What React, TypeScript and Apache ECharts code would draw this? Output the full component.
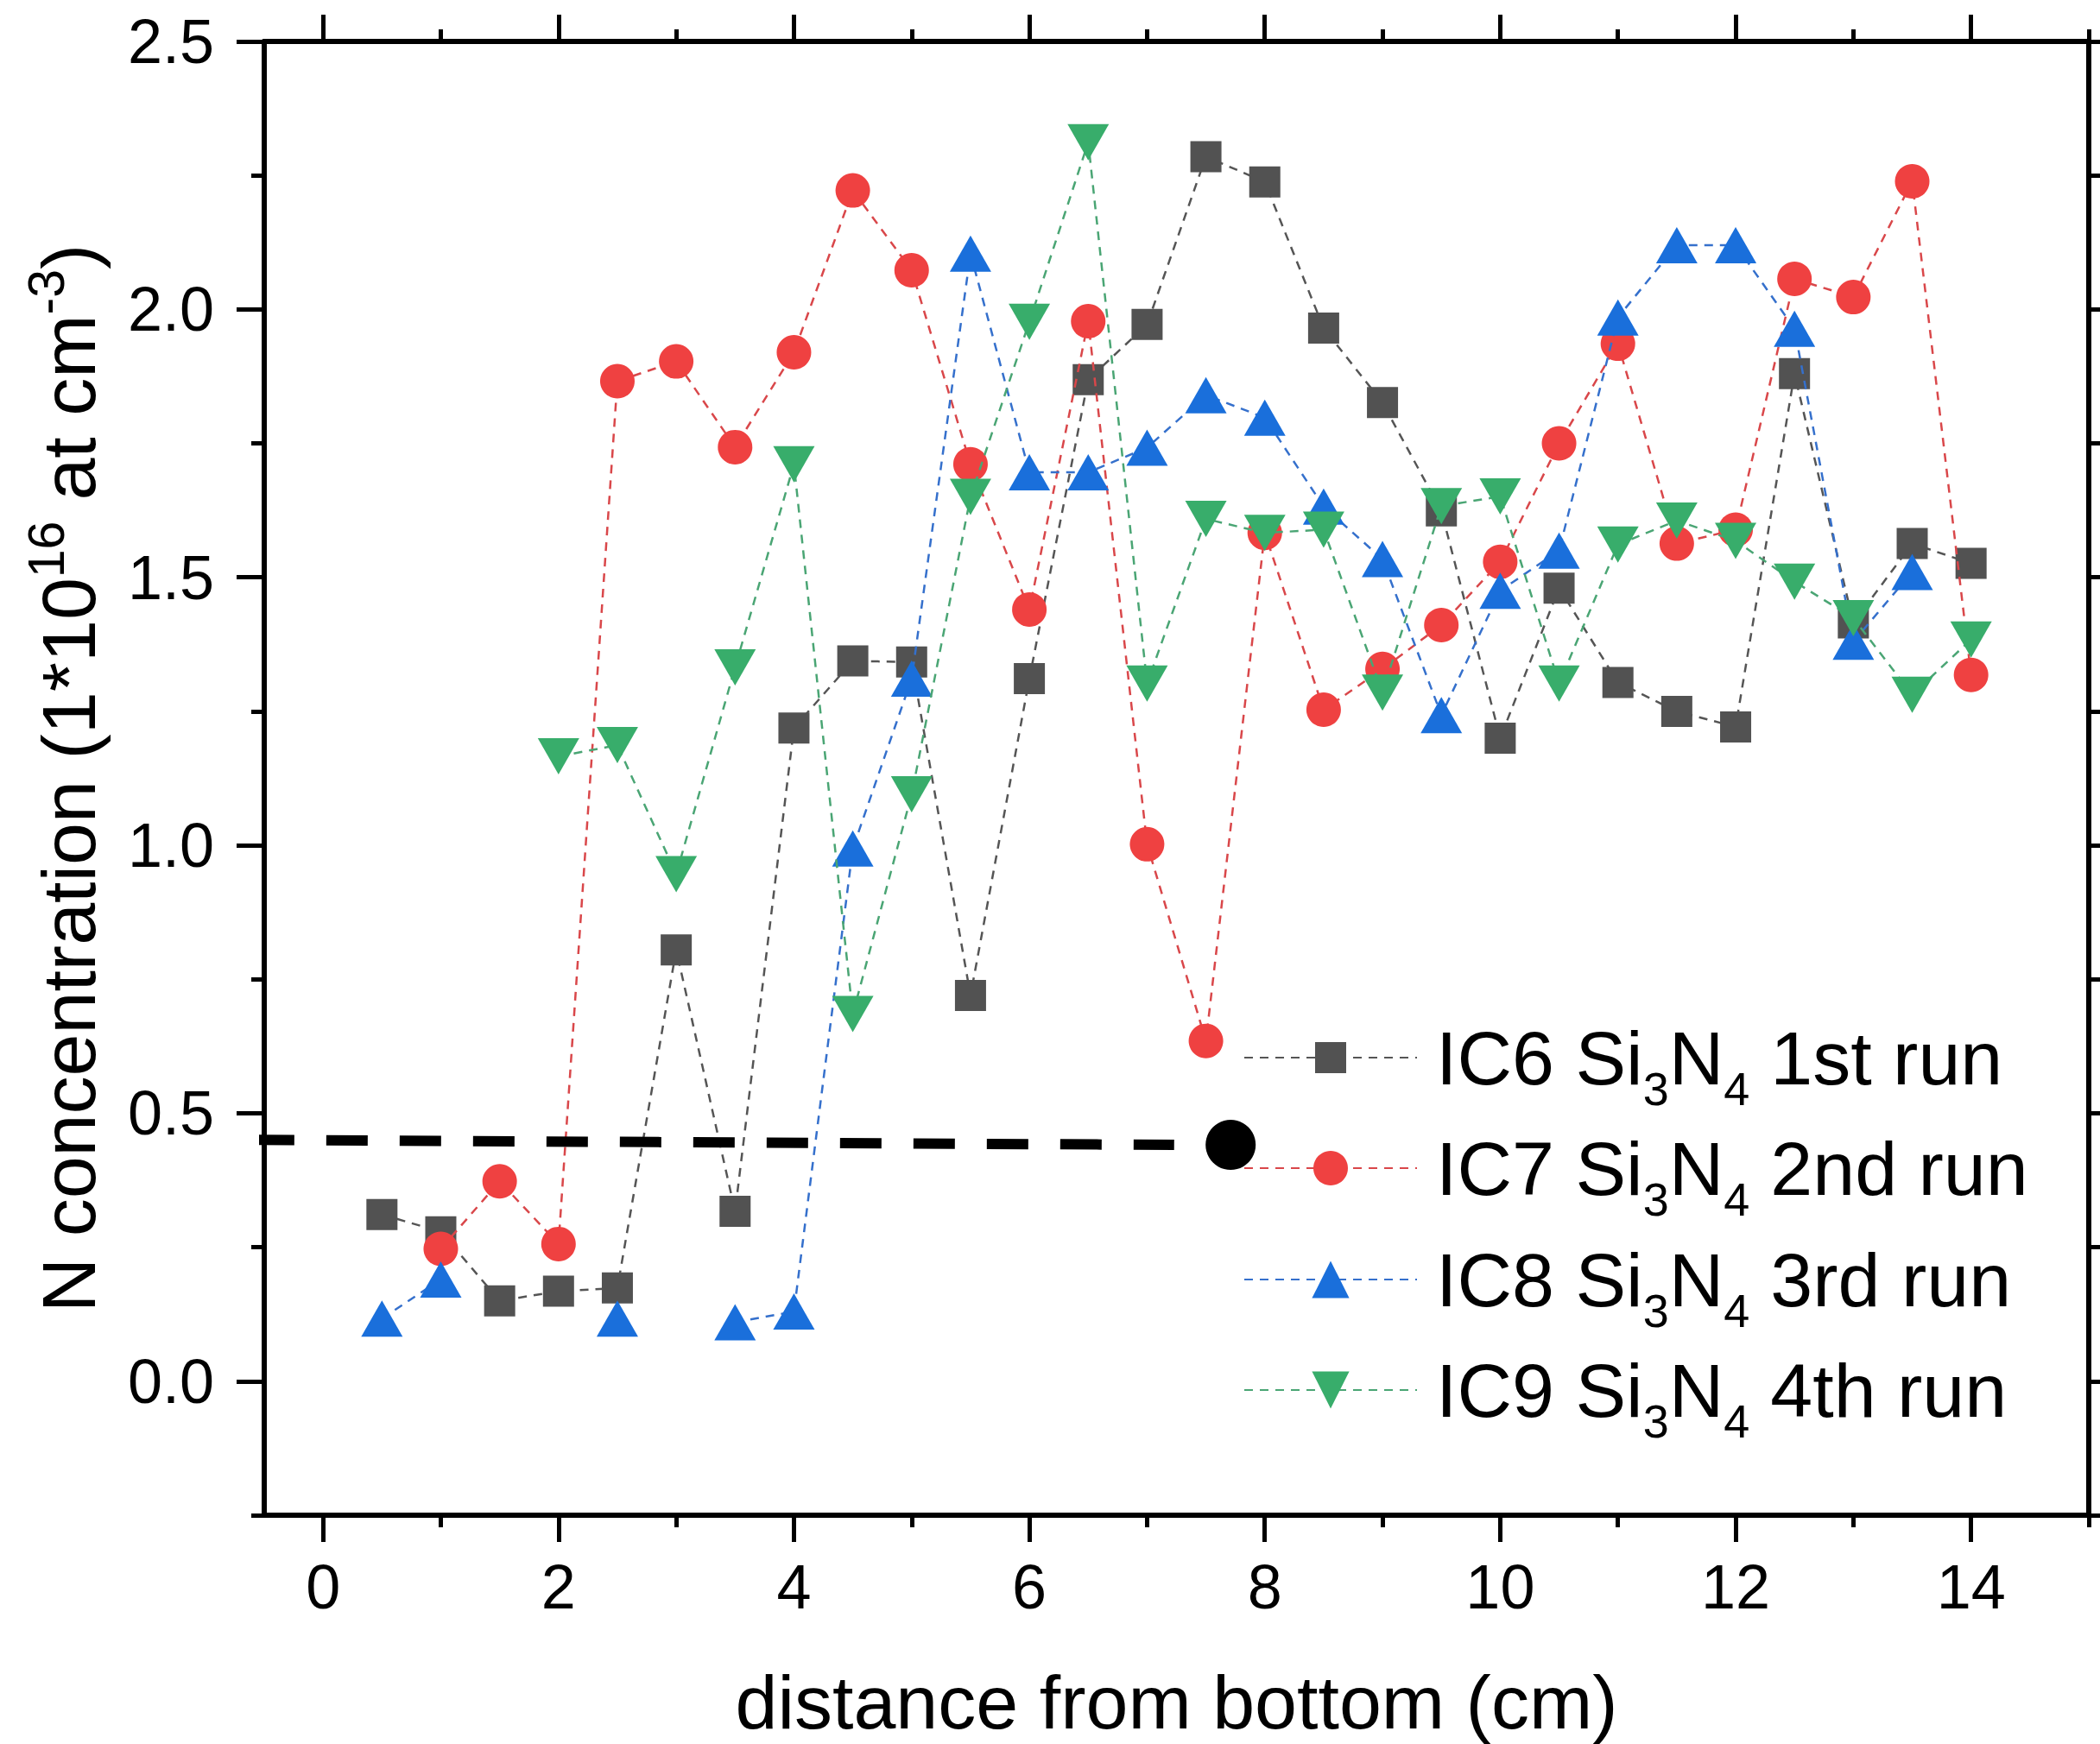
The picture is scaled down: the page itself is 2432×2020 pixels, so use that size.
import React, { useEffect, useRef } from "react";
import * as echarts from "echarts";

// ---------- data ----------
const xs = [0.5, 1, 1.5, 2, 2.5, 3, 3.5, 4, 4.5, 5, 5.5, 6, 6.5, 7, 7.5, 8, 8.5, 9, 9.5, 10, 10.5, 11, 11.5, 12, 12.5, 13, 13.5, 14];

const ic6 = [0.311, 0.279, 0.150, 0.168, 0.174, 0.805, 0.317, 1.219, 1.344, 1.342, 0.720, 1.311, 1.869, 1.972, 2.285, 2.238, 1.965, 1.826, 1.624, 1.200, 1.480, 1.304, 1.250, 1.221, 1.880, 1.415, 1.563, 1.526];
const ic7 = [null, 0.247, 0.373, 0.256, 1.866, 1.903, 1.743, 1.920, 2.222, 2.073, 1.711, 1.440, 1.978, 1.002, 0.635, 1.583, 1.253, 1.329, 1.411, 1.529, 1.750, 1.936, 1.563, 1.589, 2.057, 2.023, 2.239, 1.318];
const ic8 = [0.117, 0.190, null, null, 0.117, null, 0.110, 0.130, 0.994, 1.311, 2.104, 1.696, 1.696, 1.742, 1.840, 1.798, 1.632, 1.534, 1.243, 1.475, 1.550, 1.985, 2.120, 2.120, 1.964, 1.380, 1.510, null];
const ic9 = [null, null, null, 1.166, 1.187, 0.946, 1.332, 1.711, 0.685, 1.095, 1.650, 1.977, 2.312, 1.302, 1.609, 1.583, 1.589, 1.285, 1.633, 1.651, 1.302, 1.561, 1.606, 1.568, 1.492, 1.424, 1.281, 1.384];

const seriesIds = ["IC6", "IC7", "IC8", "IC9"];
const runLabels = ["1st run", "2nd run", "3rd run", "4th run"];

const xMajorTicks = [0, 2, 4, 6, 8, 10, 12, 14];
const xMinorTicks = [1, 3, 5, 7, 9, 11, 13, 15];
const yMajorTicks = [0, 0.5, 1, 1.5, 2, 2.5];
const yMinorTicks = [-0.25, 0.25, 0.75, 1.25, 1.75, 2.25];

const thresholdX = [-1.22, 7.23];
const thresholdY = [0.451, 0.441];
const markerPoint = [7.71, 0.441];

// ---------- styles ----------
const FONT = "'Liberation Sans', Arial, sans-serif";
const colors = ["#525252", "#EF4141", "#1A6FDB", "#38AD6B"];
const lineColors = ["#555555", "#D9474A", "#3570CC", "#4AA574"];
const symbols = ["rect", "circle", "triangle", "triangle"];
const symbolSizes: any[] = [36, 40, [48, 42], [48, 42]];
const symbolRotates = [0, 0, 0, 180];
const legendItemHeights = [45, 50, 54, 54];
const legendRowY = [1225, 1353, 1482, 1610];

const seriesNames = seriesIds.map((id, i) => `${id} Si3N4 ${runLabels[i]}`);
const seriesValues = [ic6, ic7, ic8, ic9];

const legendRich = {
  f: { fontSize: 88, lineHeight: 100, fontFamily: FONT, color: "#000", padding: [0, 0, 0, 17] },
  a: { fontSize: 88, lineHeight: 100, fontFamily: FONT, color: "#000" },
  r: { fontSize: 88, lineHeight: 100, fontFamily: FONT, color: "#000", padding: [0, 0, 0, 24] },
  s: { fontSize: 54, lineHeight: 28, verticalAlign: "top", padding: [59, 0, 0, 0], fontFamily: FONT, color: "#000" },
};

export default function App() {
  const ref = useRef<HTMLDivElement>(null);

  useEffect(() => {
    if (!ref.current) return;
    const chart = echarts.init(ref.current, undefined, { renderer: "svg" });

    const axisLineStyle = { show: true, onZero: false, lineStyle: { color: "#000", width: 6 } };
    const noLine = { show: false, onZero: false };

    const xBase = { type: "value", min: -0.5, max: 15, splitLine: { show: false } };
    const yBase = { type: "value", min: -0.25, max: 2.5, splitLine: { show: false } };

    const xAxis = [
      {
        ...xBase,
        position: "bottom",
        axisLine: axisLineStyle,
        axisTick: { show: true, customValues: xMajorTicks, length: 31, lineStyle: { color: "#000", width: 5 } },
        axisLabel: {
          show: true,
          customValues: xMajorTicks,
          margin: 47,
          fontSize: 72,
          fontFamily: FONT,
          color: "#000",
          formatter: (v: number) => String(v),
        },
        name: "distance from bottom (cm)",
        nameLocation: "middle",
        nameGap: 172,
        nameTextStyle: { fontSize: 88, fontFamily: FONT, color: "#000" },
      },
      {
        ...xBase,
        position: "bottom",
        axisLine: noLine,
        axisTick: { show: true, customValues: xMinorTicks, length: 14, lineStyle: { color: "#000", width: 5 } },
        axisLabel: { show: false },
      },
      {
        ...xBase,
        position: "top",
        axisLine: axisLineStyle,
        axisTick: { show: true, customValues: xMajorTicks, length: 31, lineStyle: { color: "#000", width: 5 } },
        axisLabel: { show: false },
      },
      {
        ...xBase,
        position: "top",
        axisLine: noLine,
        axisTick: { show: true, customValues: xMinorTicks, length: 14, lineStyle: { color: "#000", width: 5 } },
        axisLabel: { show: false },
      },
    ];

    const yAxis = [
      {
        ...yBase,
        position: "left",
        axisLine: axisLineStyle,
        axisTick: { show: true, customValues: yMajorTicks, length: 32, lineStyle: { color: "#000", width: 5 } },
        axisLabel: {
          show: true,
          customValues: yMajorTicks,
          margin: 58,
          fontSize: 72,
          fontFamily: FONT,
          color: "#000",
          formatter: (v: number) => v.toFixed(1),
        },
        name: "{a|N concentration (1*10}{p|16}{b|at cm}{p|-3}{a|)}",
        nameLocation: "middle",
        nameRotate: 90,
        nameGap: 172,
        nameTextStyle: {
          fontSize: 88,
          fontFamily: FONT,
          color: "#000",
          rich: {
            a: { fontSize: 88, lineHeight: 110, fontFamily: FONT, color: "#000" },
            b: { fontSize: 88, lineHeight: 110, fontFamily: FONT, color: "#000", padding: [0, 0, 0, 24] },
            p: { fontSize: 59, lineHeight: 49, verticalAlign: "top", fontFamily: FONT, color: "#000" },
          },
        },
      },
      {
        ...yBase,
        position: "left",
        axisLine: noLine,
        axisTick: { show: true, customValues: yMinorTicks, length: 15, lineStyle: { color: "#000", width: 5 } },
        axisLabel: { show: false },
      },
      {
        ...yBase,
        position: "right",
        axisLine: axisLineStyle,
        axisTick: { show: true, customValues: yMajorTicks, length: 32, lineStyle: { color: "#000", width: 5 } },
        axisLabel: { show: false },
      },
      {
        ...yBase,
        position: "right",
        axisLine: noLine,
        axisTick: { show: true, customValues: yMinorTicks, length: 15, lineStyle: { color: "#000", width: 5 } },
        axisLabel: { show: false },
      },
    ];

    const dataSeries = seriesNames.map((name, i) => ({
      type: "line",
      name,
      xAxisIndex: 0,
      yAxisIndex: 0,
      data: xs.map((x, j) => [x, seriesValues[i][j] == null ? "-" : seriesValues[i][j]]),
      symbol: symbols[i],
      symbolSize: symbolSizes[i],
      symbolRotate: symbolRotates[i],
      showSymbol: true,
      showAllSymbol: true,
      connectNulls: false,
      itemStyle: { color: colors[i], opacity: 1 },
      lineStyle: { color: lineColors[i], width: 2.5, type: [10, 8] },
      emphasis: { disabled: true },
      z: 2 + i,
    }));

    const legends = seriesNames.map((name, i) => ({
      data: [name],
      orient: "vertical",
      left: 1440,
      top: legendRowY[i] - 50,
      padding: 0,
      itemGap: 0,
      itemWidth: 200,
      itemHeight: legendItemHeights[i],
      selectedMode: false,
      textStyle: { fontSize: 88, fontFamily: FONT, color: "#000", rich: legendRich },
      formatter: () => `{f|${seriesIds[i]} Si}{s|3}{a|N}{s|4}{r|${runLabels[i]}}`,
    }));

    chart.setOption({
      animation: false,
      backgroundColor: "#fff",
      grid: { left: 306, right: 13, top: 48, bottom: 265, containLabel: false, outerBoundsMode: "none" },
      xAxis,
      yAxis,
      legend: legends,
      series: [
        ...dataSeries,
        {
          type: "line",
          name: "threshold",
          data: thresholdX.map((x, j) => [x, thresholdY[j]]),
          symbol: "none",
          clip: false,
          silent: true,
          lineStyle: { color: "#000", width: 12, type: [48, 37] },
          emphasis: { disabled: true },
          z: 20,
        },
        {
          type: "scatter",
          name: "marker",
          data: [markerPoint],
          symbol: "circle",
          symbolSize: 58,
          clip: false,
          silent: true,
          itemStyle: { color: "#000", opacity: 1 },
          emphasis: { disabled: true },
          z: 21,
        },
      ],
    });

    return () => chart.dispose();
  }, []);

  return (
    <div
      ref={ref}
      style={{ position: "absolute", left: 0, top: 0, width: 2432, height: 2020, background: "#fff" }}
    />
  );
}
